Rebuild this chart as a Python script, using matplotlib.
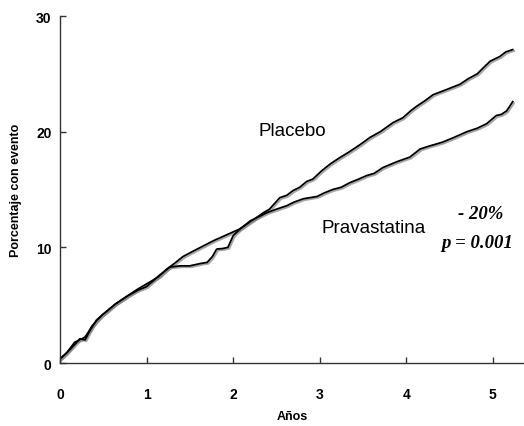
import matplotlib
matplotlib.use("Agg")
import matplotlib.pyplot as plt
import matplotlib.patheffects as pe

# Data (years, % with event)
placebo_t = [0.0, 0.08, 0.17, 0.23, 0.29, 0.33, 0.37, 0.42, 0.48, 0.56, 0.64, 0.78, 0.90, 1.06, 1.15, 1.23,
             1.32, 1.42, 1.52, 1.65, 1.78, 1.93, 2.08, 2.20, 2.35, 2.42, 2.54, 2.62, 2.69, 2.77, 2.85, 2.92,
             3.02, 3.12, 3.22, 3.35, 3.47, 3.58, 3.70, 3.85, 3.96, 4.05, 4.12, 4.22, 4.31, 4.45, 4.62, 4.72,
             4.82, 4.90, 4.97, 5.08, 5.15, 5.23]
placebo_v = [0.35, 0.9, 1.8, 2.0, 2.25, 2.7, 3.2, 3.6, 4.1, 4.6, 5.1, 5.8, 6.4, 7.1, 7.5, 8.1,
             8.6, 9.2, 9.6, 10.1, 10.6, 11.1, 11.6, 12.2, 13.0, 13.3, 14.3, 14.5, 14.9, 15.2, 15.7, 15.9,
             16.6, 17.2, 17.7, 18.3, 18.9, 19.5, 20.0, 20.8, 21.2, 21.8, 22.2, 22.7, 23.2, 23.6, 24.1, 24.6,
             25.0, 25.6, 26.1, 26.5, 26.9, 27.1]

prava_t = [0.0, 0.08, 0.17, 0.23, 0.29, 0.33, 0.37, 0.42, 0.48, 0.56, 0.64, 0.78, 0.90, 1.00, 1.06, 1.15,
           1.27, 1.39, 1.50, 1.62, 1.70, 1.76, 1.81, 1.88, 1.94, 2.00, 2.08, 2.20, 2.39, 2.50, 2.62, 2.70,
           2.81, 2.97, 3.05, 3.15, 3.25, 3.35, 3.45, 3.54, 3.63, 3.73, 3.89, 4.04, 4.16, 4.24, 4.42, 4.55,
           4.70, 4.82, 4.93, 5.04, 5.10, 5.16, 5.23]
prava_v = [0.35, 0.9, 1.6, 2.1, 2.0, 2.6, 3.1, 3.7, 4.1, 4.6, 5.1, 5.8, 6.3, 6.6, 7.0, 7.6,
           8.3, 8.4, 8.4, 8.6, 8.7, 9.2, 9.85, 9.9, 10.0, 11.0, 11.6, 12.3, 13.0, 13.3, 13.6, 13.9,
           14.2, 14.4, 14.7, 15.0, 15.2, 15.6, 15.9, 16.2, 16.4, 16.9, 17.4, 17.8, 18.5, 18.7, 19.1, 19.5,
           20.0, 20.3, 20.7, 21.4, 21.5, 21.8, 22.6]

xticks = [0, 1, 2, 3, 4, 5]
yticks = [0, 10, 20, 30]

fig = plt.figure(figsize=(5.24, 4.27), dpi=100)
ax = fig.add_axes([0.1145, 0.1475, 0.8855, 0.8125])

shadow = [pe.SimpleLineShadow(offset=(1.0, -1.0), shadow_color="gray", alpha=0.7), pe.Normal()]
ax.plot(placebo_t, placebo_v, color="black", lw=1.3, path_effects=shadow)
ax.plot(prava_t, prava_v, color="black", lw=1.3, path_effects=shadow)

ax.set_xlim(0, 5.36)
ax.set_ylim(0, 30)
ax.set_xticks(xticks)
ax.set_yticks(yticks)
ax.spines["top"].set_visible(False)
ax.spines["right"].set_visible(False)
ax.spines["left"].set_bounds(0, 30)
for s in ("left", "bottom"):
    ax.spines[s].set_linewidth(1.0)
    ax.spines[s].set_color("#333333")
ax.tick_params(axis="both", direction="in", length=4, width=1.0, color="#333333")
ax.tick_params(axis="x", pad=17)
ax.tick_params(axis="y", pad=6)
for lab in ax.get_xticklabels() + ax.get_yticklabels():
    lab.set_fontfamily("Liberation Sans")
    lab.set_fontweight("bold")
    lab.set_fontsize(10)

ax.set_xlabel("Años", family="Liberation Sans", fontweight="bold", fontsize=9, labelpad=7)
ax.set_ylabel("Porcentaje con evento", family="Liberation Sans", fontweight="bold", fontsize=9, labelpad=10)

ax.text(2.68, 20.1, "Placebo", family="Liberation Sans", fontsize=13.5, ha="center", va="center")
ax.text(3.62, 11.7, "Pravastatina", family="Liberation Sans", fontsize=13.5, ha="center", va="center")
ax.text(4.86, 12.9, "- 20%", family="Liberation Serif", style="italic", fontweight="bold",
        fontsize=13.5, ha="center", va="center")
ax.text(4.82, 10.45, "p = 0.001", family="Liberation Serif", style="italic", fontweight="bold",
        fontsize=13.5, ha="center", va="center")

fig.savefig("out.png", dpi=100)
